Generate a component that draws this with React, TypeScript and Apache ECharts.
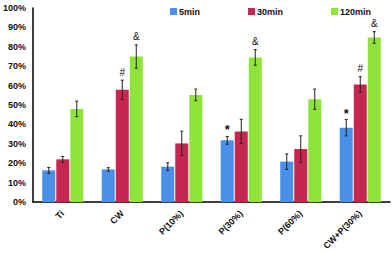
import React, { useEffect, useRef } from "react";
import * as echarts from "echarts";

const categories = ["Ti", "CW", "P(10%)", "P(30%)", "P(60%)", "CW+P(30%)"];
const seriesNames = ["5min", "30min", "120min"];
const min5 = [16.3, 16.8, 18.2, 31.8, 20.8, 38.3];
const min30 = [22.0, 57.8, 30.2, 36.4, 27.3, 60.6];
const min120 = [48.0, 75.0, 55.2, 74.5, 53.0, 84.8];
const err5 = [1.5, 0.9, 2.0, 2.0, 4.0, 4.2];
const err30 = [1.5, 5.0, 6.3, 6.2, 6.8, 4.0];
const err120 = [4.0, 6.0, 3.0, 4.0, 5.2, 3.0];
const note5 = ["", "", "", "*", "", "*"];
const note30 = ["", "#", "", "", "", "#"];
const note120 = ["", "&", "", "&", "", "&"];
const yTicks = [0, 10, 20, 30, 40, 50, 60, 70, 80, 90, 100];

const colors = ["#4a8fe8", "#c6264f", "#8fe33a"];
const BAR_W = 13;
const OFFSETS = [-14, 0, 14];

export default function App() {
  const ref = useRef<HTMLDivElement>(null);
  useEffect(() => {
    const chart = echarts.init(ref.current!, undefined, { renderer: "svg" });
    const values = [min5, min30, min120];
    const errs = [err5, err30, err120];
    const notes = [note5, note30, note120];

    const barSeries = values.map((v, i) => ({
      name: seriesNames[i],
      type: "bar",
      data: v,
      barWidth: BAR_W,
      barGap: "8%",
      itemStyle: { color: colors[i] },
    }));

    const errSeries = values.map((v, si) => ({
      type: "custom",
      name: "err" + si,
      data: v.map((val, ci) => [ci, val, errs[si][ci]]),
      z: 10,
      silent: true,
      renderItem: (params: any, api: any) => {
        const ci = api.value(0);
        const val = api.value(1);
        const e = api.value(2);
        const top = api.coord([ci, val + e]);
        const bot = api.coord([ci, val - e]);
        const x = top[0] + OFFSETS[si];
        const note = notes[si][ci];
        const children: any[] = [
          { type: "line", shape: { x1: x, y1: top[1], x2: x, y2: bot[1] }, style: { stroke: "#222", lineWidth: 1 } },
          { type: "line", shape: { x1: x - 1.5, y1: top[1], x2: x + 1.5, y2: top[1] }, style: { stroke: "#222", lineWidth: 1 } },
          { type: "line", shape: { x1: x - 1.5, y1: bot[1], x2: x + 1.5, y2: bot[1] }, style: { stroke: "#222", lineWidth: 1 } },
        ];
        if (note) {
          children.push({
            type: "text",
            style: {
              text: note,
              x: x,
              y: top[1] - (note === "*" ? 0 : 3),
              align: "center",
              verticalAlign: "bottom",
              fill: "#111",
              font: note === "*" ? "bold 13px 'Liberation Sans', Arial" : "10px 'Liberation Sans', Arial",
            },
          });
        }
        return { type: "group", children };
      },
    }));

    chart.setOption({
      animation: false,
      legend: {
        data: seriesNames,
        left: 165,
        top: 2,
        itemWidth: 7,
        itemHeight: 7,
        itemGap: 48,
        icon: "rect",
        textStyle: { fontFamily: "'Liberation Sans', Arial", fontWeight: "bold", fontSize: 9, color: "#111", padding: [0, 0, 0, -3] },
      },
      grid: { left: 31, right: 2, top: 8, bottom: 51, containLabel: false },
      xAxis: {
        type: "category",
        data: categories,
        axisLine: { lineStyle: { color: "#000", width: 1.5 } },
        axisTick: { show: false },
        axisLabel: {
          rotate: 45,
          margin: 10,
          interval: 0,
          fontFamily: "'Liberation Sans', Arial",
          fontWeight: "bold",
          fontSize: 9,
          color: "#111",
        },
      },
      yAxis: {
        type: "value",
        min: 0,
        max: 100,
        interval: 10,
        splitLine: { show: false },
        axisLine: { show: true, lineStyle: { color: "#000", width: 1.5 } },
        axisTick: { show: false },
        axisLabel: {
          formatter: (v: number) => (yTicks.includes(v) ? v + "%" : ""),
          margin: 7,
          fontFamily: "'Liberation Sans', Arial",
          fontWeight: "bold",
          fontSize: 9,
          color: "#111",
        },
      },
      series: [...barSeries, ...errSeries],
    });
    return () => chart.dispose();
  }, []);
  return <div ref={ref} style={{ width: 392, height: 253, position: "absolute", left: 0, top: 0 }} />;
}
